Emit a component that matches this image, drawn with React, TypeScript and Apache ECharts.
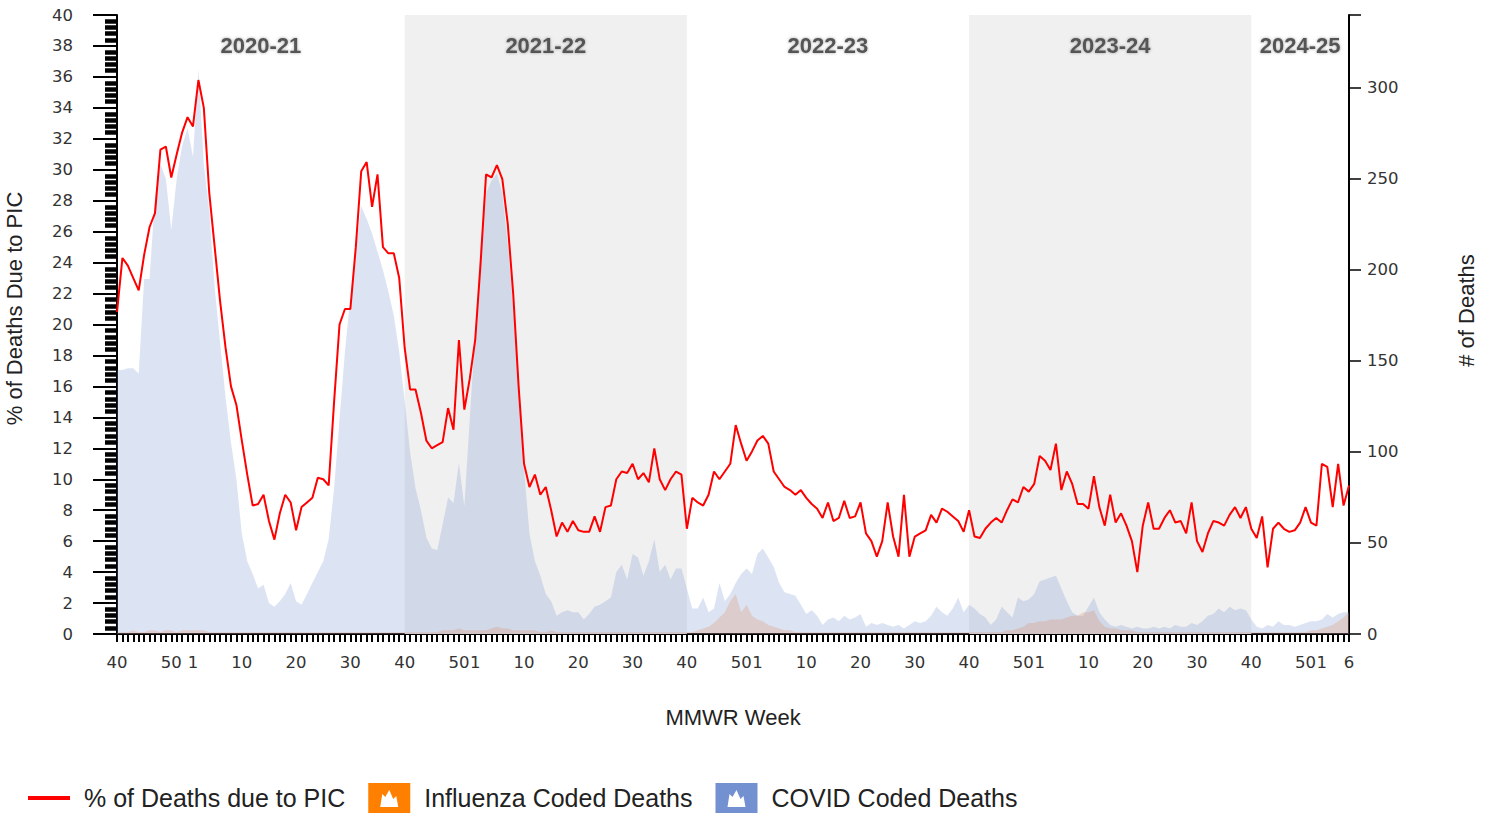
import React, { useEffect, useRef } from 'react';
import * as echarts from 'echarts';

function span(a: number, b: number): number[] {
  const r: number[] = [];
  for (let i = a; i <= b; i++) r.push(i);
  return r;
}

// MMWR week labels, season by season (2020 has 53 weeks)
const SEASONS = ['2020-21', '2021-22', '2022-23', '2023-24', '2024-25'];
const SEASON_WEEKS = [
  [...span(40, 53), ...span(1, 39)],
  [...span(40, 52), ...span(1, 39)],
  [...span(40, 52), ...span(1, 39)],
  [...span(40, 52), ...span(1, 39)],
  [...span(40, 52), ...span(1, 6)],
];
const SHADED = [false, true, false, true, false];
const LABELED_WEEKS = [40, 50, 1, 10, 20, 30];

// % of deaths due to PIC (left axis)
const PIC_2020_21 = [
  20.8, 24.3, 23.8, 23, 22.2, 24.5, 26.3, 27.2, 31.3, 31.5, 29.5, 31, 32.4, 33.4,
  32.8, 35.8, 34, 28.5, 25, 21.5, 18.5, 16, 14.8, 12.5,
  10.3, 8.3, 8.4, 9, 7.3, 6.1, 7.8, 9, 8.5, 6.7,
  8.2, 8.5, 8.8, 10.1, 10, 9.6, 15, 20, 21, 21,
  25, 29.9, 30.5, 27.6, 29.7, 25, 24.6, 24.6, 23,
];
const PIC_2021_22 = [
  18.5, 15.8, 15.8, 14.3, 12.5, 12, 12.2, 12.4, 14.6, 13.2, 19, 14.5, 16.5,
  19, 24, 29.7, 29.5, 30.3, 29.4, 26.5, 22, 16, 11,
  9.5, 10.3, 9, 9.5, 8, 6.3, 7.2, 6.6, 7.3, 6.7,
  6.6, 6.6, 7.6, 6.6, 8.2, 8.3, 10, 10.5, 10.4, 11,
  10, 10.4, 9.8, 12, 10, 9.3, 10, 10.5, 10.3,
];
const PIC_2022_23 = [
  6.8, 8.8, 8.5, 8.3, 9, 10.5, 10, 10.5, 11, 13.5, 12.3, 11.2, 11.8,
  12.5, 12.8, 12.3, 10.5, 10, 9.5, 9.3, 9, 9.3, 8.8,
  8.4, 8.1, 7.5, 8.5, 7.3, 7.5, 8.6, 7.5, 7.6, 8.5,
  6.5, 6, 5, 6, 8.5, 6.3, 5, 9, 5, 6.3,
  6.5, 6.7, 7.7, 7.2, 8.1, 7.9, 7.6, 7.3, 6.6,
];
const PIC_2023_24 = [
  8, 6.3, 6.2, 6.8, 7.2, 7.5, 7.2, 8, 8.7, 8.5, 9.5, 9.2, 9.7,
  11.5, 11.2, 10.6, 12.3, 9.3, 10.5, 9.7, 8.4, 8.4, 8.1,
  10.2, 8.2, 7, 9, 7.2, 7.8, 7, 6, 4, 7,
  8.5, 6.8, 6.8, 7.5, 8, 7.2, 7.3, 6.5, 8.5, 6,
  5.3, 6.5, 7.3, 7.2, 7, 7.7, 8.2, 7.5, 8.2,
];
const PIC_2024_25 = [
  6.8, 6.2, 7.6, 4.3, 6.8, 7.2, 6.8, 6.6, 6.7, 7.2, 8.2, 7.2, 7,
  11, 10.8, 8.2, 11, 8.3, 9.6,
];

// COVID coded deaths (right axis)
const COVID_2020_21 = [
  145, 145, 146, 146, 143, 195, 195, 240, 258, 250, 222, 250, 268, 278,
  262, 310, 258, 232, 190, 160, 130, 105, 85, 55,
  40, 33, 25, 27, 17, 15, 18, 22, 28, 18,
  16, 22, 28, 34, 40, 52, 80, 118, 155, 185,
  212, 235, 228, 220, 210, 200, 188, 175, 155,
];
const COVID_2021_22 = [
  128, 100, 80, 68, 53, 47, 46, 60, 75, 72, 94, 70, 118,
  165, 215, 242, 249, 253, 242, 214, 180, 138, 90,
  55, 40, 32, 22, 18, 10, 12, 13, 12, 12,
  8, 11, 15, 16, 18, 20, 34, 38, 30, 44,
  42, 32, 40, 52, 34, 38, 30, 36, 36,
];
const COVID_2022_23 = [
  25, 14, 14, 20, 12, 14, 28, 18, 22, 28, 33, 36, 33,
  44, 47, 42, 37, 28, 23, 22, 21, 16, 11,
  13, 10, 5, 8, 9, 7, 10, 8, 9, 11,
  4, 6, 5, 6, 5, 4, 5, 3, 5, 7,
  6, 7, 10, 15, 12, 10, 14, 20, 12,
];
const COVID_2023_24 = [
  16, 14, 11, 9, 5, 8, 15, 12, 9, 20, 18, 19, 22,
  29, 30, 31, 32, 25, 18, 12, 10, 10, 15,
  20, 12, 8, 5, 4, 5, 4, 3, 4, 3,
  3, 4, 3, 4, 3, 5, 4, 4, 6, 5,
  7, 10, 11, 14, 12, 15, 13, 14, 13,
];
const COVID_2024_25 = [8, 4, 3, 5, 4, 7, 5, 5, 4, 5, 6, 7, 7, 8, 11, 9, 11, 12, 12];

// Influenza coded deaths (right axis)
const FLU_2020_21 = [
  1, 1, 1, 2, 1, 1, 2, 2, 1, 2, 2, 1, 2, 2,
  2, 2, 2, 1, 1, 1, 1, 1, 1, 1,
  1, 1, 1, 1, 1, 1, 1, 1, 1, 1,
  1, 1, 1, 1, 1, 1, 1, 1, 1, 1,
  1, 1, 1, 1, 1, 1, 1, 1, 1,
];
const FLU_2021_22 = [
  1, 1, 1, 1, 1, 1, 1, 2, 2, 2, 3, 2, 2,
  2, 2, 2, 3, 4, 3, 3, 2, 2, 2,
  2, 2, 1, 1, 2, 1, 1, 1, 1, 1,
  1, 1, 1, 1, 1, 1, 1, 1, 1, 1,
  1, 1, 1, 1, 1, 1, 1, 1, 1,
];
const FLU_2022_23 = [
  1, 1, 2, 3, 4, 6, 9, 12, 18, 22, 12, 16, 10,
  8, 7, 5, 4, 3, 2, 2, 1, 1, 1,
  1, 1, 1, 1, 1, 1, 1, 1, 1, 1,
  1, 1, 1, 1, 1, 1, 1, 1, 1, 1,
  1, 1, 1, 1, 1, 1, 1, 1, 1,
];
const FLU_2023_24 = [
  1, 1, 1, 1, 1, 1, 1, 2, 2, 3, 4, 6, 6,
  7, 7, 8, 8, 8, 9, 10, 10, 12, 12,
  13, 7, 4, 3, 3, 2, 2, 2, 1, 1,
  1, 1, 1, 1, 1, 1, 1, 1, 1, 1,
  1, 1, 1, 1, 1, 1, 1, 1, 1,
];
const FLU_2024_25 = [1, 1, 1, 1, 1, 1, 1, 1, 1, 1, 1, 2, 2, 3, 4, 5, 7, 9, 12];

const WEEKS = SEASON_WEEKS.flat();
const PIC = [...PIC_2020_21, ...PIC_2021_22, ...PIC_2022_23, ...PIC_2023_24, ...PIC_2024_25];
const COVID = [...COVID_2020_21, ...COVID_2021_22, ...COVID_2022_23, ...COVID_2023_24, ...COVID_2024_25];
const FLU = [...FLU_2020_21, ...FLU_2021_22, ...FLU_2022_23, ...FLU_2023_24, ...FLU_2024_25];

const LEFT_TICKS = { min: 0, max: 40, interval: 2 };
const RIGHT_TICKS = { min: 0, max: 340, interval: 50 };

const NAME_PIC = '% of Deaths due to PIC';
const NAME_FLU = 'Influenza Coded Deaths';
const NAME_COVID = 'COVID Coded Deaths';

const AREA_ICON = 'path://M0,0L42,0L42,30L0,30Z M12,24L30,24L28,13L25,16L21,7L17,14L14,11Z';
const LINE_ICON = 'path://M0,0L42,0L42,4L0,4Z';

export default function App() {
  const ref = useRef<HTMLDivElement>(null);

  useEffect(() => {
    if (!ref.current) return;
    const chart = echarts.init(ref.current, undefined, { renderer: 'svg' });

    const N = WEEKS.length;
    const starts: number[] = [];
    let acc = 0;
    SEASON_WEEKS.forEach((w) => { starts.push(acc); acc += w.length; });
    const markData = SEASONS.map((name, i) => [
      {
        name,
        xAxis: starts[i],
        itemStyle: { color: SHADED[i] ? '#f0f0f0' : 'rgba(255,255,255,0)' },
      },
      { xAxis: i < SEASONS.length - 1 ? starts[i + 1] : N - 1 },
    ]);

    const tickFont = { fontFamily: 'DejaVu Sans', fontSize: 16.5, color: '#333' };
    const nameFont = { fontFamily: 'Liberation Sans', fontSize: 22, color: '#222' };

    chart.setOption({
      animation: false,
      backgroundColor: '#ffffff',
      grid: {
        left: 117, right: 140, top: 15, bottom: 179,
        containLabel: false, outerBoundsMode: 'none',
      },
      legend: {
        left: 23,
        top: 778,
        itemWidth: 42,
        itemHeight: 30,
        itemGap: 23,
        itemStyle: { borderWidth: 0 },
        textStyle: { fontFamily: 'Liberation Sans', fontSize: 25, color: '#222', padding: [0, 0, 0, 9] },
        data: [
          { name: NAME_PIC, icon: LINE_ICON },
          { name: NAME_FLU, icon: AREA_ICON },
          { name: NAME_COVID, icon: AREA_ICON },
        ],
      },
      xAxis: {
        type: 'value',
        min: 0,
        max: N - 1,
        interval: 1,
        name: 'MMWR Week',
        nameLocation: 'middle',
        nameGap: 72,
        nameTextStyle: nameFont,
        splitLine: { show: false },
        axisLine: { lineStyle: { color: '#000', width: 2 } },
        axisTick: { length: 8, lineStyle: { color: '#000', width: 2 } },
        axisLabel: {
          ...tickFont,
          margin: 20,
          formatter: (v: number) => {
            const w = WEEKS[Math.round(v)];
            if (w === undefined) return '';
            return LABELED_WEEKS.includes(w) || Math.round(v) === N - 1 ? String(w) : '';
          },
        },
      },
      yAxis: [
        {
          type: 'value',
          ...LEFT_TICKS,
          position: 'left',
          name: '% of Deaths Due to PIC',
          nameLocation: 'middle',
          nameRotate: 90,
          nameGap: 92,
          nameTextStyle: { ...nameFont, padding: [0, 0, 0, 32] },
          splitLine: { show: false },
          axisLine: { show: true, lineStyle: { color: '#000', width: 2 } },
          axisTick: { show: true, length: 24, lineStyle: { color: '#000', width: 2 } },
          minorTick: { show: true, splitNumber: 5, length: 12, lineStyle: { color: '#000', width: 4.5 } },
          axisLabel: { ...tickFont, margin: 44 },
        },
        {
          type: 'value',
          ...RIGHT_TICKS,
          position: 'right',
          name: '# of Deaths',
          nameLocation: 'middle',
          nameRotate: 90,
          nameGap: 106,
          nameTextStyle: { ...nameFont, padding: [0, 0, 0, 28] },
          splitLine: { show: false },
          axisLine: { show: true, lineStyle: { color: '#000', width: 2 } },
          axisTick: { show: true, length: 12, lineStyle: { color: '#000', width: 1.5 } },
          axisLabel: {
            ...tickFont,
            margin: 18,
            formatter: (v: number) => (v % 50 === 0 ? String(v) : ''),
          },
        },
      ],
      series: [
        {
          name: NAME_COVID,
          type: 'line',
          yAxisIndex: 1,
          symbol: 'none',
          z: 2,
          itemStyle: { color: '#7390d0' },
          lineStyle: { width: 0, opacity: 0 },
          areaStyle: { color: 'rgba(115,144,208,0.36)' },
          data: COVID.map((v, i) => [i, v]),
          markArea: {
            silent: true,
            label: {
              show: true,
              position: 'insideTop',
              distance: 19,
              color: '#555',
              fontFamily: 'Liberation Sans',
              fontSize: 22,
              fontWeight: 'bold',
              textShadowColor: 'rgba(0,0,0,0.35)',
              textShadowBlur: 3,
            },
            data: markData,
          },
        },
        {
          name: NAME_FLU,
          type: 'line',
          yAxisIndex: 1,
          symbol: 'none',
          z: 3,
          itemStyle: { color: '#ff8000' },
          lineStyle: { width: 0, opacity: 0 },
          areaStyle: { color: 'rgba(220,120,60,0.3)' },
          data: FLU.map((v, i) => [i, v]),
        },
        {
          name: NAME_PIC,
          type: 'line',
          yAxisIndex: 0,
          symbol: 'none',
          z: 5,
          itemStyle: { color: '#ff0000' },
          lineStyle: { color: '#ff0000', width: 2 },
          data: PIC.map((v, i) => [i, v]),
        },
      ],
    });

    return () => chart.dispose();
  }, []);

  return (
    <div
      ref={ref}
      style={{ position: 'fixed', left: 0, top: 0, width: 1489, height: 813, background: '#fff' }}
    />
  );
}
